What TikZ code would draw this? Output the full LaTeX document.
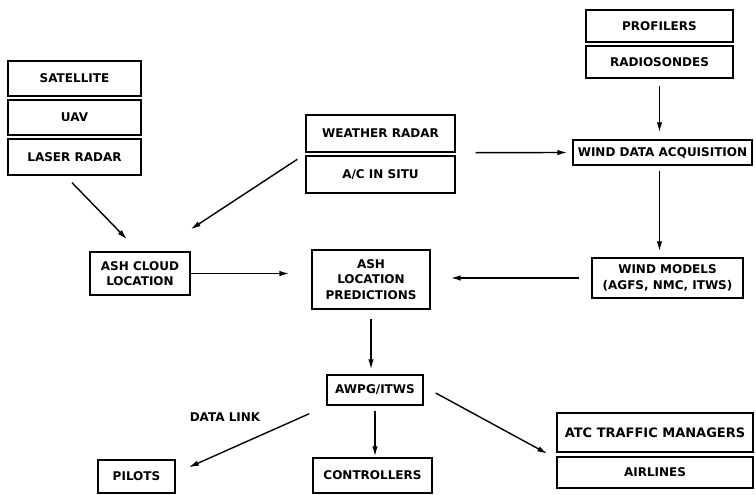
\documentclass[tikz,border=0pt]{standalone}
\usepackage{fontspec}
\setmainfont{DejaVu Sans}
\usetikzlibrary{arrows.meta,calc}
\begin{document}
\begin{tikzpicture}[x=1pt,y=-1pt,
  box/.style={draw,line width=1.4pt,inner sep=0pt,align=center,
    font=\fontsize{12}{15.5}\selectfont\bfseries},
  lbl/.style={font=\fontsize{12}{15}\selectfont\bfseries},
  arr/.style={line width=1.4pt,-{Latex[length=10pt,width=5.5pt]}}]
\useasboundingbox (0,0) rectangle (756,495);
% left stack
\node[box,minimum width=133pt,minimum height=35pt] (sat) at (74.5,78.5) {SATELLITE};
\node[box,minimum width=133pt,minimum height=35pt] (uav) at (74.5,117.5) {UAV};
\node[box,minimum width=133pt,minimum height=36pt] (laser) at (74.5,157) {LASER RADAR};
\node[box,minimum width=100pt,minimum height=43pt] (ashcloud) at (140,273.5) {ASH CLOUD\\LOCATION};
% middle stack
\node[box,minimum width=149pt,minimum height=37pt] (wx) at (380.5,133.5) {WEATHER RADAR};
\node[box,minimum width=149pt,minimum height=37pt] (acinsitu) at (380.5,174.5) {A/C IN SITU};
\node[box,minimum width=118pt,minimum height=59pt] (ashpred) at (371,279.5) {ASH\\LOCATION\\PREDICTIONS};
% right stack
\node[box,minimum width=147pt,minimum height=32pt] (prof) at (659.5,26) {PROFILERS};
\node[box,minimum width=147pt,minimum height=32pt] (radio) at (659.5,62) {RADIOSONDES};
\node[box,minimum width=179pt,minimum height=25pt] (wda) at (662.5,152.5) {WIND DATA ACQUISITION};
\node[box,minimum width=151pt,minimum height=40pt] (wm) at (667.5,278) {WIND MODELS\\(AGFS, NMC, ITWS)};
% bottom
\node[box,minimum width=96pt,minimum height=30pt] (awpg) at (375,390) {AWPG/ITWS};
\node[box,minimum width=77pt,minimum height=33pt] (pilots) at (136.5,476.5) {PILOTS};
\node[box,minimum width=119pt,minimum height=35pt] (ctrl) at (372.5,475.5) {CONTROLLERS};
\node[box,minimum width=196pt,minimum height=39pt,font=\fontsize{13}{15}\selectfont\bfseries] (atc) at (655,432.5) {ATC TRAFFIC MANAGERS};
\node[box,minimum width=196pt,minimum height=31pt] (airlines) at (655,472.5) {AIRLINES};
\node[lbl] (dl) at (225,417) {DATA LINK};
% connectors
\draw[arr] ([xshift=-2.5pt,yshift=-7pt]laser.south) -- ([xshift=-13pt,yshift=12pt]ashcloud.north);
\draw[arr] ([xshift=-8pt,yshift=-4pt]acinsitu.north west) -- ([yshift=22pt]ashcloud.north east);
\draw[arr,shorten >=22pt] (ashcloud.east) -- (ashcloud.east -| ashpred.west);
\draw[arr,shorten <=12pt,shorten >=20pt] (wm.west) -- (wm.west -| ashpred.east);
\draw[arr,shorten <=20pt,shorten >=5pt] (wx.south east) -- (wda.west);
\draw[arr,shorten <=7pt,shorten >=7pt] (radio.south) -- (radio.south |- wda.north);
\draw[arr,shorten <=5pt,shorten >=6pt] (wda.south -| radio.south) -- (radio.south |- wm.north);
\draw[arr,shorten <=9pt,shorten >=5pt] (ashpred.south) -- (ashpred.south |- awpg.north);
\draw[arr,shorten <=5pt,shorten >=1pt] (awpg.south) -- (awpg.south |- ctrl.north);
\draw[arr] ([xshift=-17pt,yshift=-8pt]awpg.south west) -- ([xshift=13pt,yshift=-8pt]pilots.north east);
\draw[arr] ([xshift=12pt,yshift=-3pt]awpg.east) -- ([xshift=-9pt,yshift=-1pt]atc.south west);
\end{tikzpicture}
\end{document}
